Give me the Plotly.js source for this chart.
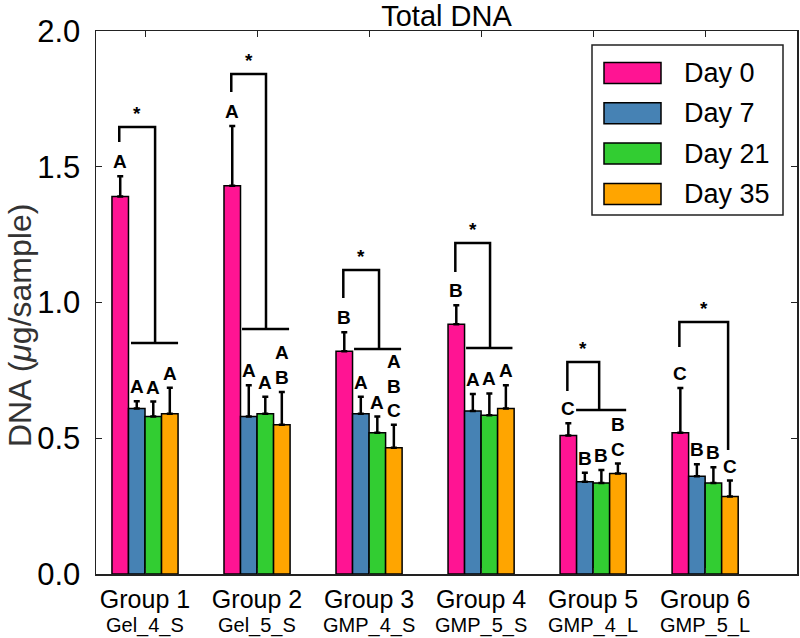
<!DOCTYPE html>
<html>
<head>
<meta charset="utf-8">
<script src="https://cdn.plot.ly/plotly-3.0.1.min.js"></script>
<style>html,body{margin:0;padding:0;background:#fff;}#chart{width:800px;height:638px;}</style>
</head>
<body>
<div id="chart"></div>
<script>
// ---- data ----
const groups = ['Group 1','Group 2','Group 3','Group 4','Group 5','Group 6'];
const samples = ['Gel_4_S','Gel_5_S','GMP_4_S','GMP_5_S','GMP_4_L','GMP_5_L'];
const seriesNames = ['Day 0','Day 7','Day 21','Day 35'];

const day0  = [1.39, 1.43, 0.82, 0.92, 0.51, 0.52];
const day7  = [0.61, 0.58, 0.59, 0.60, 0.34, 0.36];
const day21 = [0.58, 0.59, 0.52, 0.585, 0.335, 0.335];
const day35 = [0.59, 0.55, 0.465, 0.61, 0.37, 0.285];

const err0  = [0.075, 0.22, 0.07, 0.07, 0.045, 0.165];
const err7  = [0.026, 0.115, 0.063, 0.063, 0.033, 0.044];
const err21 = [0.055, 0.063, 0.06, 0.08, 0.048, 0.058];
const err35 = [0.096, 0.12, 0.085, 0.085, 0.037, 0.059];

const letters0  = ['A','A','B','B','C','C'];
const letters7  = ['A','A','A','A','B','B'];
const letters21 = ['A','A','A','A','B','B'];
const letters35 = ['A','A<br>B','A<br>B<br>C','A','B<br>C','C'];

// significance brackets: Day 0 vs later days, per group (heights in DNA units)
const bracketTop   = [1.646, 1.842, 1.12, 1.219, 0.781, 0.928];
const bracketLeftY = [1.591, 1.775, 1.017, 1.112, 0.674, 0.836];
const bracketBaseY = [0.851, 0.902, 0.829, 0.832, 0.604, 0.457];

// ---- styling ----
const colors = ['#FF1493','#4682B4','#32CD32','#FFA500'];
const means = [day0, day7, day21, day35];
const errs = [err0, err7, err21, err35];
const letters = [letters0, letters7, letters21, letters35];
const xIdx = groups.map((g,i)=>i);
const barW = 0.1475;
const FONT = 'Liberation Sans, Arial, sans-serif';

const traces = means.map((m,k)=>({
  type:'bar', name: seriesNames[k], x: xIdx, y: m,
  marker:{color: colors[k], line:{color:'#000', width:1.5}},
  error_y:{type:'data', array: errs[k], symmetric:false, arrayminus: m.map(()=>0),
           color:'#000', thickness:2.5, width:3},
  showlegend:false, hoverinfo:'x+y'
}));

const annotations = [];
const shapes = [];

// letters above error bars
letters.forEach((arr,k)=>{
  arr.forEach((t,i)=>{
    annotations.push({x: i + (k-1.5)*barW, y: means[k][i] + errs[k][i], xref:'x', yref:'y',
      text:'<b>'+t+'</b>', showarrow:false, yanchor:'bottom', yshift:2,
      font:{family:FONT, size:19, color:'#000'}});
  });
});

// brackets
const lx = -0.23;
const rx = [0.09, 0.08, 0.089, 0.08, 0.054, 0.205];
const baseX = [[-0.125,0.295],[-0.134,0.286],[-0.134,0.286],[-0.134,0.28],[-0.152,0.295],null];
groups.forEach((g,i)=>{
  const L = i+lx, R = i+rx[i];
  shapes.push({type:'path', xref:'x', yref:'y',
    path:`M${L},${bracketLeftY[i]} L${L},${bracketTop[i]} L${R},${bracketTop[i]} L${R},${bracketBaseY[i]}`,
    line:{color:'#000', width:2.5}});
  if (baseX[i]) {
    shapes.push({type:'line', xref:'x', yref:'y', x0:i+baseX[i][0], x1:i+baseX[i][1],
      y0:bracketBaseY[i], y1:bracketBaseY[i], line:{color:'#000', width:2.5}});
  }
  annotations.push({x:(L+R)/2, y:bracketTop[i], xref:'x', yref:'y', text:'<b>*</b>',
    showarrow:false, yanchor:'bottom', yshift:1, font:{family:FONT, size:19, color:'#000'}});
});

// custom legend (pixel layout converted to paper coords)
const PL=96, PR=797, PT=31, PB=574;
const px = v => (v-PL)/(PR-PL);
const py = v => (PB-v)/(PB-PT);
shapes.push({type:'rect', xref:'paper', yref:'paper', x0:px(592), x1:px(783), y0:py(215), y1:py(45),
  line:{color:'#222', width:1.5}, fillcolor:'#fff'});
seriesNames.forEach((n,k)=>{
  const cy = 73 + k*40.3;
  shapes.push({type:'rect', xref:'paper', yref:'paper', x0:px(604), x1:px(661), y0:py(cy+10.5), y1:py(cy-10.5),
    line:{color:'#000', width:1.5}, fillcolor:colors[k]});
  annotations.push({xref:'paper', yref:'paper', x:px(682), y:py(cy), text:n, showarrow:false,
    xanchor:'left', yanchor:'middle', font:{family:FONT, size:27, color:'#000'}});
});

// sample names under group labels
samples.forEach((s,i)=>{
  annotations.push({xref:'x', yref:'paper', x:i, y:py(625), text:s, showarrow:false,
    xanchor:'center', yanchor:'middle', font:{family:FONT, size:20, color:'#000'}});
});

// y-axis title (placed as rotated annotation to match reference position)
annotations.push({xref:'paper', yref:'paper', x:px(20), y:py(326), text:'DNA (<i>μ</i>g/sample)',
  textangle:-90, showarrow:false, xanchor:'center', yanchor:'middle',
  font:{family:FONT, size:32, color:'#333'}});

const layout = {
  width:800, height:638,
  margin:{l:PL, r:800-PR, t:PT, b:638-PB},
  paper_bgcolor:'#fff', plot_bgcolor:'#fff',
  barmode:'group', bargap:0.41, bargroupgap:0,
  title:{text:'Total DNA', x:0.5, xref:'paper', y:1-16/638, yref:'container', yanchor:'middle',
         font:{family:FONT, size:29, color:'#000'}},
  xaxis:{range:[-0.4375, 5.82], tickmode:'array', tickvals:xIdx, ticktext: groups,
         ticks:'inside', ticklen:6, tickcolor:'#222', showline:true, linecolor:'#222', linewidth:1.5,
         mirror:'ticks', showgrid:false, zeroline:false, ticklabelstandoff:2,
         tickfont:{family:FONT, size:25, color:'#000'}, automargin:false},
  yaxis:{range:[0,2], dtick:0.5, tickformat:'.1f', ticks:'inside', ticklen:6, tickcolor:'#222',
         showline:true, linecolor:'#222', linewidth:1.5, mirror:'ticks', showgrid:false, zeroline:false,
         tickfont:{family:FONT, size:31, color:'#000'}, automargin:false, ticklabelstandoff:8},
  shapes: shapes, annotations: annotations
};

Plotly.newPlot('chart', traces, layout, {displayModeBar:false, staticPlot:true});
</script>
</body>
</html>
